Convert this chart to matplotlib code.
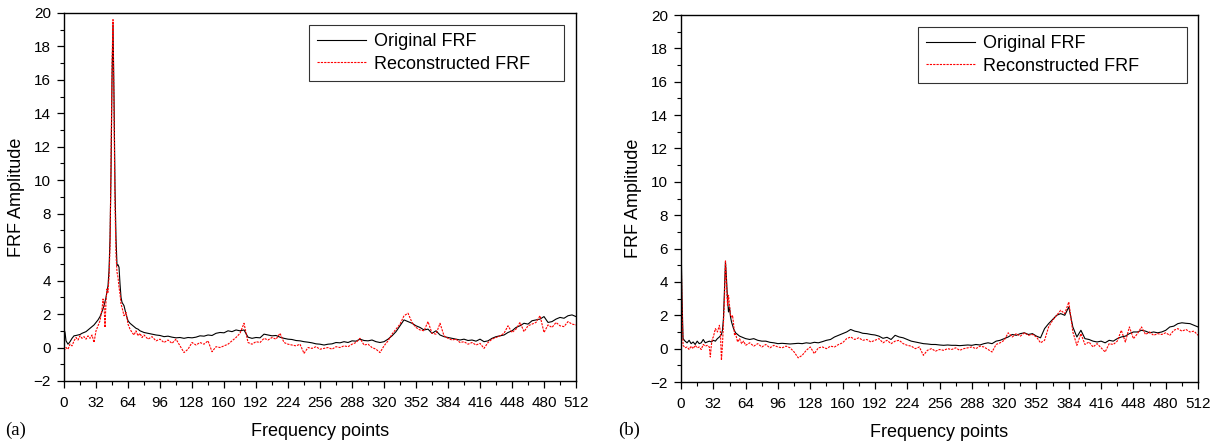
import matplotlib
matplotlib.use('Agg')
import matplotlib.pyplot as plt
from matplotlib.ticker import MultipleLocator

plt.rcParams['font.family'] = ['Liberation Sans', 'DejaVu Sans']

# ---- (a) original FRF ----
a_orig_x = [0, 1, 2, 4, 6, 8, 10, 12, 14, 16, 18, 20, 22, 24, 26, 28, 30, 32, 34, 36, 38, 40,
            42, 44, 45, 46, 47, 48, 49, 50, 51, 52, 53, 54, 55, 56, 57, 58, 60, 62, 64, 66, 68,
            70, 72, 74, 76, 78] + list(range(80, 513, 4))
a_orig_y = [1.1, 0.9, 0.4, 0.2, 0.35, 0.55, 0.7, 0.72, 0.75, 0.78, 0.85, 0.9, 0.95, 1.05, 1.15,
            1.25, 1.35, 1.5, 1.65, 1.85, 2.15, 2.5, 3.0, 3.7, 4.6, 6.5, 10.5, 16.0, 19.3, 15.0,
            9.5, 6.5, 4.9, 4.95, 4.8, 3.8, 3.0, 2.7, 2.5, 2.0, 1.6, 1.45, 1.35, 1.25, 1.15, 1.1,
            1.0, 0.95,
            0.9, 0.85, 0.8, 0.75, 0.72, 0.65, 0.68, 0.62, 0.58, 0.6, 0.55, 0.6, 0.58, 0.62, 0.7,
            0.68, 0.75, 0.72, 0.85, 0.9, 0.88, 1.0, 0.95, 1.05, 1.0, 1.05, 0.62, 0.55, 0.6, 0.58,
            0.8, 0.75, 0.7, 0.72, 0.62, 0.55, 0.5, 0.48, 0.42, 0.4, 0.35, 0.32, 0.28, 0.22, 0.2,
            0.15, 0.2, 0.22, 0.3, 0.28, 0.35, 0.3, 0.4, 0.38, 0.5, 0.42, 0.4, 0.45, 0.35, 0.3,
            0.35, 0.5, 0.7, 0.95, 1.3, 1.65, 1.55, 1.45, 1.3, 1.2, 1.05, 1.1, 0.85, 1.0, 0.75,
            0.65, 0.6, 0.55, 0.5, 0.45, 0.5, 0.42, 0.45, 0.38, 0.5, 0.35, 0.4, 0.55, 0.65, 0.7,
            0.75, 0.9, 1.0, 1.2, 1.3, 1.45, 1.4, 1.6, 1.65, 1.7, 1.85, 1.5, 1.55, 1.7, 1.8, 1.75,
            1.9, 1.95, 1.85]

# ---- (a) reconstructed FRF ----
a_rec_x = [0, 2, 4, 6, 8, 10, 12, 14, 16, 18, 20, 22, 24, 26, 28, 30, 32, 34, 36, 38, 39, 40,
           41, 42, 43, 44, 45, 46, 47, 48, 49, 50, 51, 52, 53, 54, 55, 56, 57, 58, 60, 62, 64,
           66, 68, 70, 72, 74, 76, 78] + list(range(80, 513, 4))
a_rec_y = [-0.2, 0.0, -0.1, 0.2, 0.1, 0.4, 0.6, 0.45, 0.7, 0.55, 0.65, 0.5, 0.7, 0.55, 0.75,
           0.3, 1.0, 1.3, 1.6, 2.3, 2.9, 2.6, 1.2, 2.8, 3.5, 3.3, 4.2, 6.0, 11.0, 17.0, 19.6,
           14.0, 8.5, 5.5, 4.5, 4.2, 3.6, 3.2, 2.6, 2.4, 1.9, 2.1, 1.4, 1.1, 0.9, 0.75, 1.0, 0.7,
           0.85, 0.6,
           0.75, 0.5, 0.65, 0.4, 0.5, 0.3, 0.45, 0.25, 0.5, 0.1, -0.3, -0.1, 0.3, 0.15, 0.3,
           0.2, 0.4, -0.25, 0.05, 0.0, 0.1, 0.2, 0.4, 0.6, 0.85, 1.45, 0.3, 0.2, 0.35, 0.3,
           0.55, 0.45, 0.6, 0.5, 0.85, 0.3, 0.2, 0.15, 0.1, 0.2, -0.35, 0.0, -0.05, 0.05, -0.1,
           -0.05, 0.0, -0.1, 0.05, 0.0, 0.1, 0.05, 0.2, 0.3, 0.55, 0.15, 0.2, 0.0, -0.1, -0.3,
           0.1, 0.4, 0.8, 1.1, 1.4, 1.9, 2.05, 1.5, 1.2, 1.05, 1.0, 1.55, 0.85, 0.8, 1.45, 0.7,
           0.55, 0.45, 0.5, 0.3, 0.35, 0.2, 0.3, 0.15, 0.25, -0.05, 0.3, 0.5, 0.6, 0.7, 0.85,
           1.3, 0.9, 1.1, 1.5, 0.95, 1.3, 1.4, 1.5, 1.9, 0.9, 1.35, 1.2, 1.5, 1.3, 1.25, 1.55,
           1.4, 1.35]

# ---- (b) original FRF ----
b_orig_x = [0, 1, 2, 4, 6, 8, 10, 12, 14, 16, 18, 20, 22, 24, 26, 28, 30, 32, 34, 36, 38, 40,
            41, 42, 43, 44, 45, 46, 47, 48, 49, 50, 52, 54, 56, 58, 60, 62, 64] + list(range(68, 513, 4))
b_orig_y = [6.5, 3.0, 0.6, 0.45, 0.35, 0.5, 0.3, 0.4, 0.25, 0.45, 0.3, 0.35, 0.55, 0.35, 0.4,
            0.45, 0.4, 0.5, 0.45, 0.6, 0.7, 0.85, 1.1, 1.8, 3.5, 5.2, 4.2, 3.0, 2.2, 2.5, 1.9,
            1.6, 1.2, 0.95, 0.85, 0.75, 0.7, 0.65, 0.6,
            0.55, 0.6, 0.5, 0.45, 0.45, 0.38, 0.35, 0.3, 0.32, 0.3, 0.28, 0.3, 0.32, 0.3, 0.35,
            0.32, 0.38, 0.35, 0.42, 0.5, 0.55, 0.7, 0.8, 0.9, 1.0, 1.15, 1.05, 1.0, 0.92, 0.9,
            0.85, 0.82, 0.75, 0.62, 0.68, 0.55, 0.8, 0.7, 0.65, 0.55, 0.45, 0.4, 0.35, 0.3, 0.28,
            0.25, 0.25, 0.22, 0.2, 0.22, 0.2, 0.2, 0.18, 0.2, 0.22, 0.2, 0.25, 0.22, 0.3, 0.35,
            0.3, 0.45, 0.5, 0.6, 0.7, 0.85, 0.8, 0.9, 0.95, 0.85, 0.9, 0.75, 0.65, 1.2, 1.5,
            1.75, 2.0, 2.1, 2.0, 2.5, 1.3, 0.7, 1.1, 0.6, 0.55, 0.45, 0.4, 0.45, 0.35, 0.5, 0.45,
            0.6, 0.7, 0.75, 0.9, 1.0, 1.0, 1.1, 1.05, 0.95, 1.0, 0.95, 1.0, 1.1, 1.3, 1.35, 1.5,
            1.55, 1.52, 1.5, 1.4, 1.3]

# ---- (b) reconstructed FRF ----
b_rec_x = [0, 1, 2, 4, 6, 8, 10, 12, 14, 16, 18, 20, 22, 24, 26, 28, 29, 30, 31, 32, 34, 36,
           38, 39, 40, 41, 42, 43, 44, 45, 46, 47, 48, 49, 50, 51, 52, 53, 54, 56, 58, 60, 62,
           64] + list(range(68, 513, 4))
b_rec_y = [6.0, 2.5, 0.2, 0.05, 0.1, -0.05, 0.15, 0.0, 0.2, 0.05, 0.1, -0.05, 0.25, 0.15, 0.2,
           0.1, -0.5, 0.2, 0.6, 0.7, 1.2, 1.0, 1.4, 1.0, -0.7, 0.2, 1.5, 3.0, 5.3, 4.0, 2.6,
           3.2, 2.6, 2.0, 1.9, 2.0, 1.5, 0.8, 0.9, 0.4, 0.6, 0.3, 0.45, 0.2,
           0.35, 0.15, 0.3, 0.1, 0.25, 0.05, 0.2, 0.1, 0.05, 0.15, 0.05, -0.2, -0.55, -0.4,
           -0.1, 0.1, -0.3, 0.05, 0.1, 0.0, 0.15, 0.1, 0.25, 0.35, 0.6, 0.7, 0.55, 0.65, 0.5,
           0.55, 0.4, 0.5, 0.6, 0.35, 0.5, 0.3, 0.45, 0.5, 0.3, 0.2, 0.15, 0.0, 0.1, -0.4, -0.1,
           0.0, -0.15, -0.05, -0.1, 0.0, -0.05, 0.05, -0.1, 0.0, 0.05, 0.1, 0.0, 0.15, 0.1,
           -0.05, -0.2, 0.25, 0.35, 0.5, 0.95, 0.7, 0.9, 0.75, 0.95, 0.8, 0.85, 0.7, 0.35, 0.5,
           1.3, 1.7, 2.0, 2.3, 2.1, 2.8, 1.0, 0.2, 0.9, 0.25, 0.4, 0.1, 0.3, 0.05, -0.2, 0.3,
           0.25, 0.45, 1.1, 0.4, 1.3, 0.6, 0.9, 1.3, 0.85, 1.0, 0.8, 0.9, 0.85, 0.95, 0.8, 1.1,
           1.2, 1.05, 1.15, 1.0, 1.05, 0.8]

x_ticks = list(range(0, 513, 32))

fig = plt.figure(figsize=(12.24, 4.44), dpi=100)
ax_a = fig.add_axes([0.0523, 0.1419, 0.4183, 0.829])
ax_b = fig.add_axes([0.5564, 0.1396, 0.4224, 0.8266])

# axes, series, panel tag, tag x position, legend box (x0, y0, w, h in axes coords)
panels = [
    (ax_a, a_orig_x, a_orig_y, a_rec_x, a_rec_y, '(a)', 0.004, (0.478, 0.815, 0.499, 0.152)),
    (ax_b, b_orig_x, b_orig_y, b_rec_x, b_rec_y, '(b)', 0.505, (0.458, 0.809, 0.520, 0.158)),
]

for ax, ox, oy, rx, ry, tag, tag_x, lbox in panels:
    ax.plot(ox, oy, color='black', lw=0.8, label='Original FRF')
    ax.plot(rx, ry, color='red', lw=0.8, dashes=(2, 1), label='Reconstructed FRF')
    ax.set_xlim(0, 512)
    ax.set_ylim(-2, 20)
    ax.set_xticks(x_ticks)
    ax.xaxis.set_minor_locator(MultipleLocator(16))
    ax.yaxis.set_major_locator(MultipleLocator(2))
    ax.yaxis.set_minor_locator(MultipleLocator(1))
    ax.tick_params(which='major', direction='out', length=5, width=0.9, labelsize=11,
                   top=False, right=False)
    ax.tick_params(axis='x', which='major', pad=6)
    ax.tick_params(axis='y', which='major', pad=4.5)
    ax.tick_params(which='minor', direction='out', length=3, width=0.8, top=False, right=False)
    for s in ax.spines.values():
        s.set_linewidth(1.0)
    ax.set_xlabel('Frequency points', fontsize=13, labelpad=9)
    ax.set_ylabel('FRF Amplitude', fontsize=13, labelpad=6)
    leg = ax.legend(loc='upper left', bbox_to_anchor=lbox, mode='expand', borderaxespad=0,
                    fontsize=13, fancybox=False, handlelength=2.7, borderpad=0.45,
                    labelspacing=0.3, handletextpad=0.45)
    leg.get_frame().set_edgecolor('black')
    leg.get_frame().set_linewidth(0.8)
    fig.text(tag_x, 0.02, tag, fontsize=13.5, family='Liberation Serif')

fig.savefig('out.png', dpi=100)
